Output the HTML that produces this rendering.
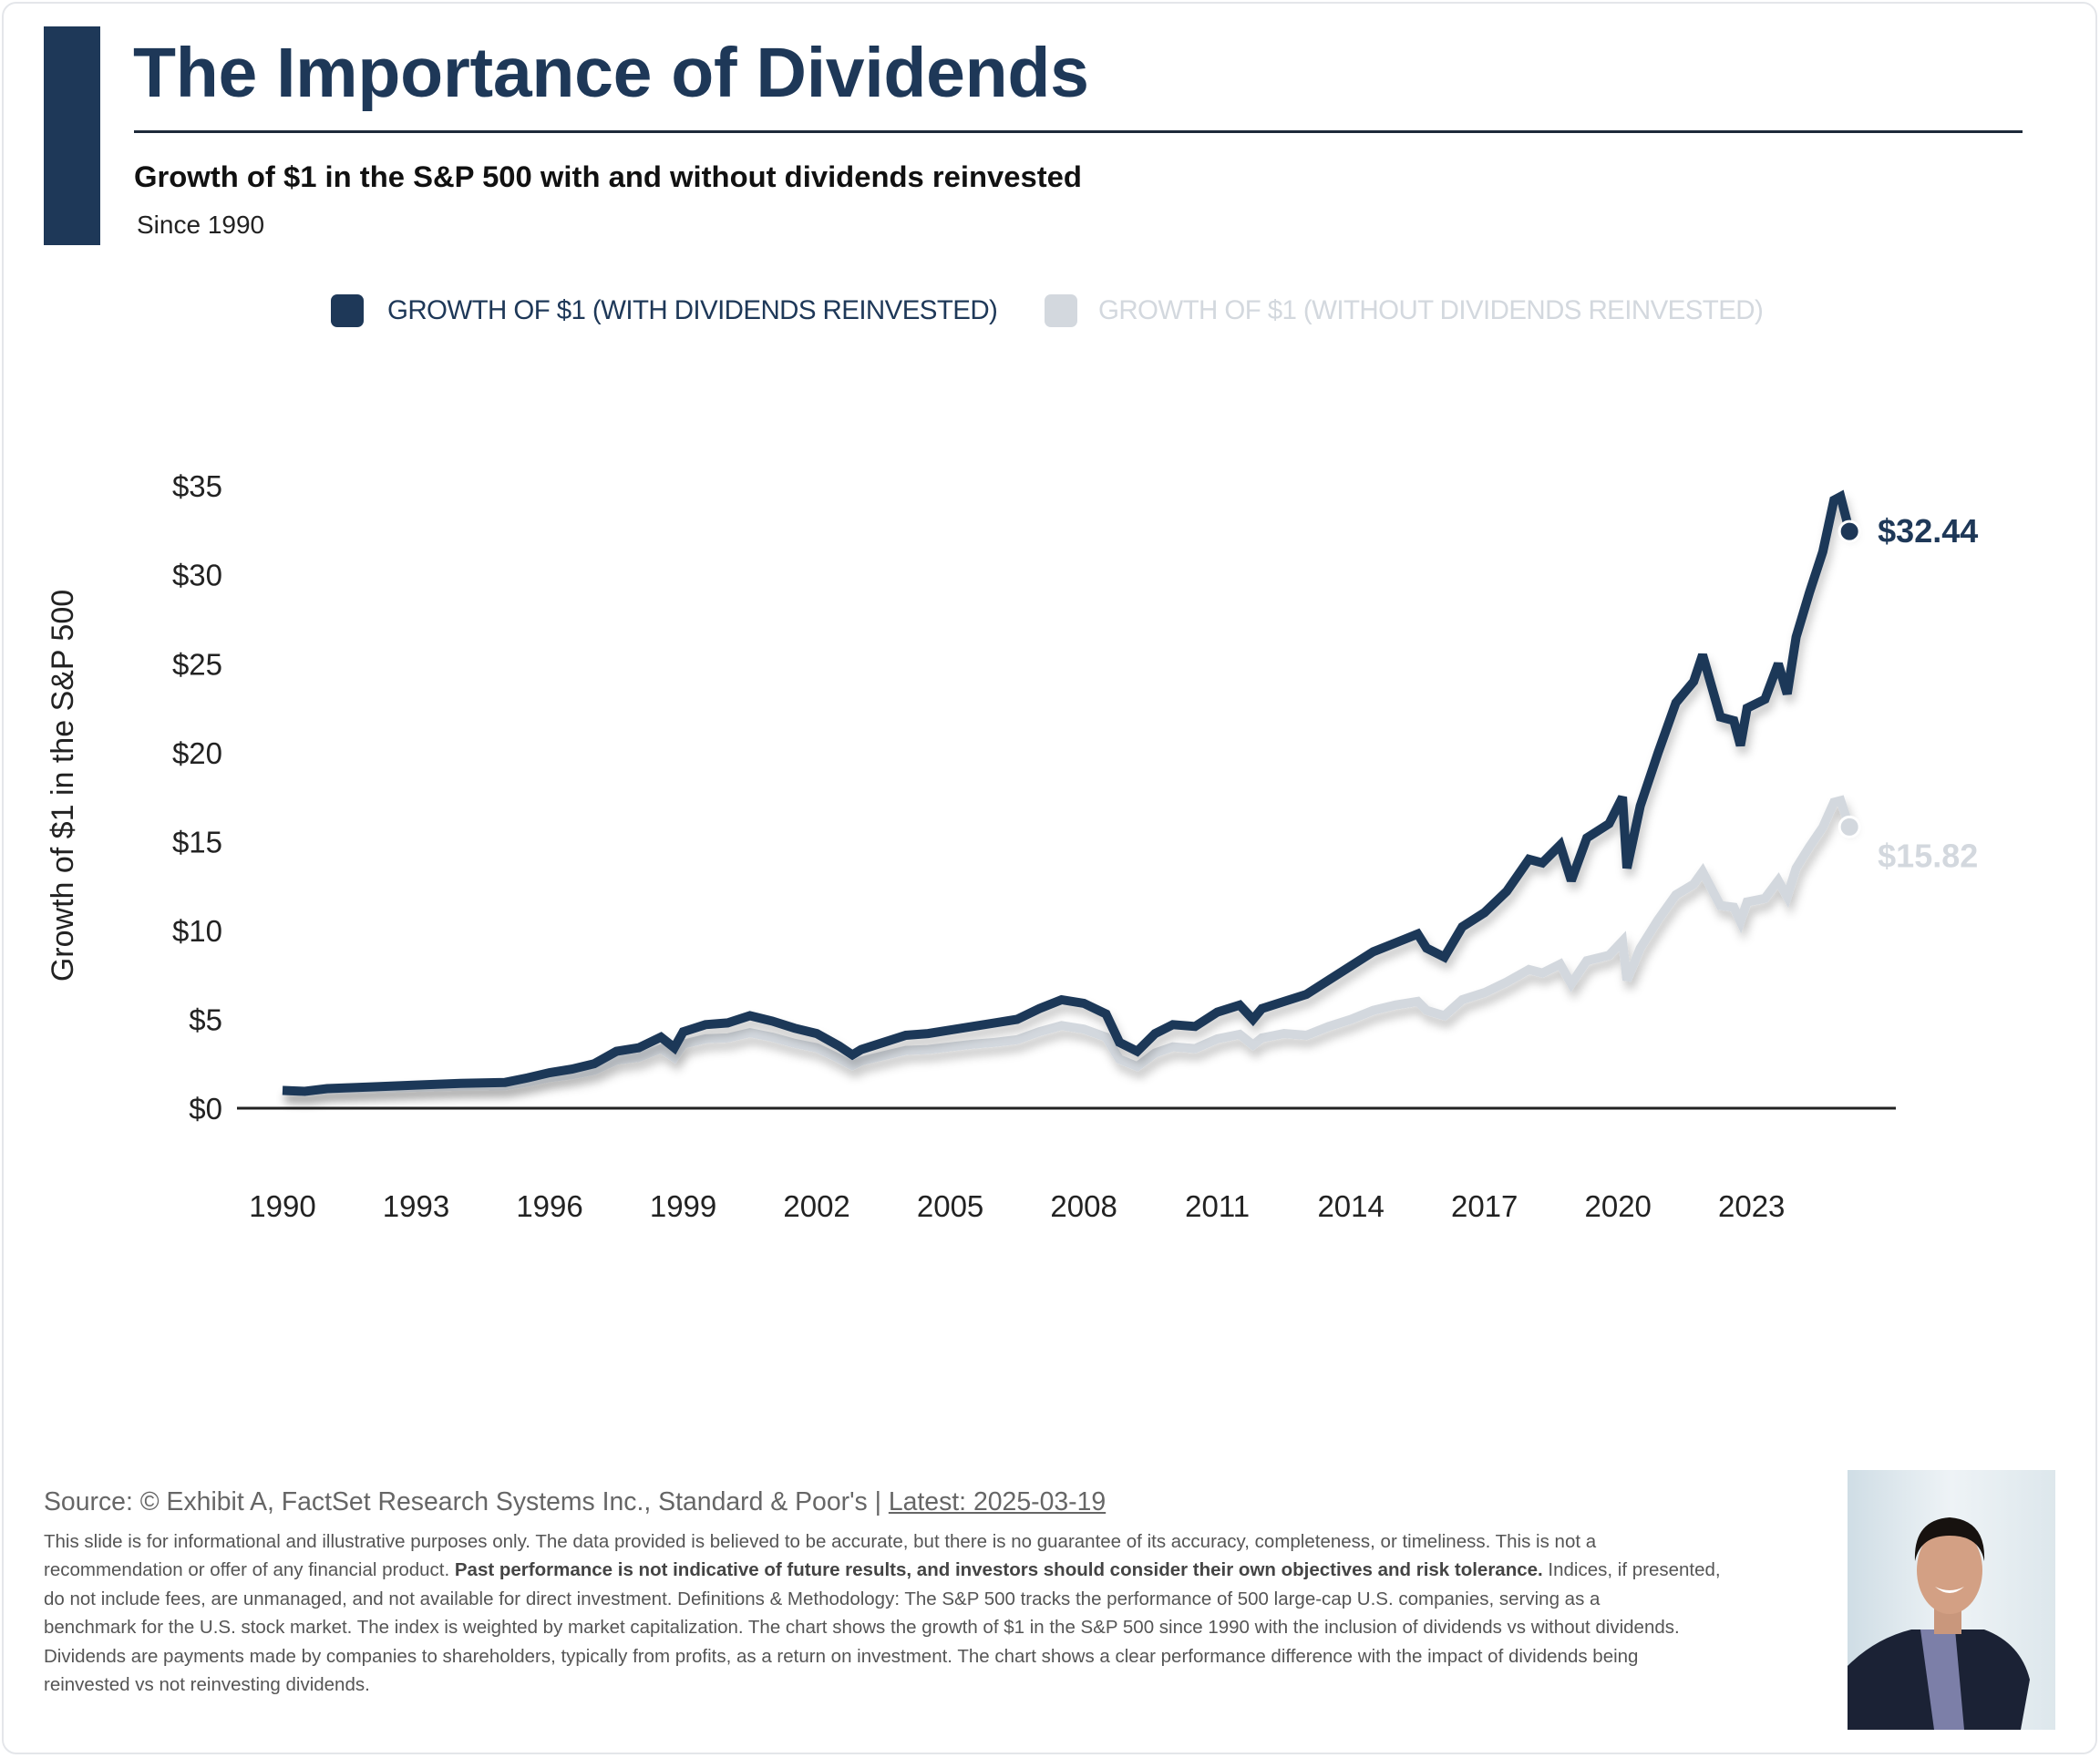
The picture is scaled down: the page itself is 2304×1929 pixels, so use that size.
<!DOCTYPE html>
<html><head><meta charset="utf-8">
<style>
*{margin:0;padding:0;box-sizing:border-box}
body{width:2304px;height:1929px;background:#fff;font-family:"Liberation Sans",sans-serif;position:relative;overflow:hidden}
#card{position:absolute;left:2px;top:2px;width:2299px;height:1923px;border:2px solid #e4e6ea;border-radius:16px}
.abs{position:absolute;white-space:nowrap}
.disc{position:absolute;left:48px;font-size:20.5px;color:#555;white-space:nowrap}
</style></head><body>
<div id="card"></div>
<div class="abs" style="left:48px;top:29px;width:62px;height:240px;background:#1e3858"></div>
<div class="abs" style="left:146px;top:36px;font-size:77px;font-weight:bold;color:#1e3858;letter-spacing:-0.3px">The Importance of Dividends</div>
<div class="abs" style="left:147px;top:143px;width:2072px;height:3px;background:#1e2a3a"></div>
<div class="abs" style="left:147px;top:175px;font-size:32.8px;font-weight:bold;color:#111">Growth of $1 in the S&amp;P 500 with and without dividends reinvested</div>
<div class="abs" style="left:150px;top:231px;font-size:28px;color:#222">Since 1990</div>

<div class="abs" style="left:363px;top:323px;height:36px">
  <div style="position:absolute;left:0;top:0;width:36px;height:36px;border-radius:7px;background:#1e3858"></div>
  <div style="position:absolute;left:62px;top:1px;font-size:29.5px;letter-spacing:-0.6px;color:#1e3858;white-space:nowrap">GROWTH OF $1 (WITH DIVIDENDS REINVESTED)</div>
</div>
<div class="abs" style="left:1146px;top:323px;height:36px">
  <div style="position:absolute;left:0;top:0;width:36px;height:36px;border-radius:7px;background:#d3d8de"></div>
  <div style="position:absolute;left:59px;top:1px;font-size:29.5px;letter-spacing:-0.6px;color:#d3d8de;white-space:nowrap">GROWTH OF $1 (WITHOUT DIVIDENDS REINVESTED)</div>
</div>

<svg id="chart" width="2304" height="1929" style="position:absolute;left:0;top:0">
<defs><filter id="sh" x="-5%" y="-5%" width="110%" height="120%"><feDropShadow dx="3" dy="8" stdDeviation="5" flood-color="#000" flood-opacity="0.22"/></filter></defs>
<text transform="translate(80,862) rotate(-90)" text-anchor="middle" font-size="34" fill="#222" font-family="Liberation Sans, sans-serif">Growth of $1 in the S&amp;P 500</text>
<g id="yticks"></g><g id="xticks"></g>
<line x1="260" x2="2080" y1="1216" y2="1216" stroke="#222" stroke-width="3"/>
<g id="series"></g>
</svg>

<div class="abs" style="left:48px;top:1632px;font-size:28.4px;color:#666">Source: © Exhibit A, FactSet Research Systems Inc., Standard &amp; Poor's | <span style="text-decoration:underline">Latest: 2025-03-19</span></div>
<div class="disc" style="top:1680px">This slide is for informational and illustrative purposes only. The data provided is believed to be accurate, but there is no guarantee of its accuracy, completeness, or timeliness. This is not a</div>
<div class="disc" style="top:1711px">recommendation or offer of any financial product. <b style="color:#444">Past performance is not indicative of future results, and investors should consider their own objectives and risk tolerance.</b> Indices, if presented,</div>
<div class="disc" style="top:1743px">do not include fees, are unmanaged, and not available for direct investment. Definitions &amp; Methodology: The S&amp;P 500 tracks the performance of 500 large-cap U.S. companies, serving as a</div>
<div class="disc" style="top:1774px">benchmark for the U.S. stock market. The index is weighted by market capitalization. The chart shows the growth of $1 in the S&amp;P 500 since 1990 with the inclusion of dividends vs without dividends.</div>
<div class="disc" style="top:1806px">Dividends are payments made by companies to shareholders, typically from profits, as a return on investment. The chart shows a clear performance difference with the impact of dividends being</div>
<div class="disc" style="top:1837px">reinvested vs not reinvesting dividends.</div>

<svg width="228" height="285" style="position:absolute;left:2027px;top:1613px">
<defs><linearGradient id="bg" x1="0" x2="1"><stop offset="0" stop-color="#cfdde5"/><stop offset="0.5" stop-color="#eef3f6"/><stop offset="1" stop-color="#dde7ec"/></linearGradient></defs>
<rect width="228" height="285" fill="url(#bg)"/>
<path d="M0 285 L0 215 Q30 185 70 175 L150 175 Q190 190 200 230 L190 285Z" fill="#1b2235"/>
<path d="M80 175 L118 175 L128 285 L95 285Z" fill="#7c7fa8"/>
<rect x="95" y="140" width="30" height="40" fill="#c9977c"/>
<ellipse cx="112" cy="110" rx="36" ry="48" fill="#d3a084"/>
<path d="M74 100 Q72 55 112 52 Q152 55 150 100 Q145 72 112 72 Q80 72 74 100Z" fill="#17120f"/>
<path d="M96 128 Q112 142 128 128 Q112 136 96 128Z" fill="#fff"/>
</svg>

<script>
const years = [1990,1990.5,1991,1992,1993,1994,1995,1995.5,1996,1996.5,1997,1997.5,1998,1998.5,1998.8,1999,1999.5,2000,2000.5,2001,2001.5,2002,2002.5,2002.8,2003,2003.5,2004,2004.5,2005,2005.5,2006,2006.5,2007,2007.5,2008,2008.5,2008.8,2009.2,2009.6,2010,2010.5,2011,2011.5,2011.8,2012,2012.5,2013,2013.5,2014,2014.5,2015,2015.5,2015.7,2016.1,2016.5,2017,2017.5,2018,2018.3,2018.7,2018.95,2019.3,2019.8,2020.1,2020.2,2020.5,2020.9,2021.3,2021.7,2021.9,2022.3,2022.6,2022.75,2022.9,2023.3,2023.6,2023.8,2024,2024.3,2024.6,2024.85,2025,2025.2];
const withDiv = [1.0,0.95,1.1,1.2,1.3,1.4,1.45,1.7,2.0,2.2,2.5,3.2,3.4,4.0,3.4,4.3,4.7,4.8,5.2,4.9,4.5,4.2,3.5,3.0,3.3,3.7,4.1,4.2,4.4,4.6,4.8,5.0,5.6,6.1,5.9,5.3,3.7,3.2,4.2,4.7,4.6,5.4,5.8,5.0,5.6,6.0,6.4,7.2,8.0,8.8,9.3,9.8,9.0,8.5,10.2,11.0,12.2,14.0,13.8,14.8,12.8,15.2,16.0,17.5,13.5,17.0,20.0,22.8,24.0,25.5,22.0,21.8,20.4,22.5,23.0,25.0,23.3,26.5,29.0,31.3,34.2,34.4,32.44];
const withoutDiv = [1.0,0.94,1.06,1.12,1.18,1.24,1.26,1.46,1.72,1.88,2.12,2.7,2.86,3.35,2.85,3.6,3.9,3.95,4.25,4.0,3.65,3.4,2.8,2.4,2.65,2.95,3.25,3.3,3.45,3.6,3.7,3.85,4.3,4.65,4.45,4.0,2.75,2.35,3.1,3.45,3.35,3.9,4.15,3.55,3.95,4.2,4.1,4.6,5.0,5.5,5.8,6.0,5.5,5.2,6.1,6.5,7.1,7.8,7.6,8.1,7.0,8.3,8.6,9.4,7.2,9.0,10.6,12.0,12.6,13.3,11.4,11.3,10.5,11.6,11.8,12.8,11.9,13.5,14.7,15.8,17.2,17.3,15.82];
const yTicks = [0,5,10,15,20,25,30,35];
const xTicks = [1990,1993,1996,1999,2002,2005,2008,2011,2014,2017,2020,2023];

const NS='http://www.w3.org/2000/svg';
const xS = y => 310 + (y-1990)*48.84;
const yS = v => 1216 - v*19.51;
function mk(tag, attrs, parent){const e=document.createElementNS(NS,tag);for(const k in attrs)e.setAttribute(k,attrs[k]);parent.appendChild(e);return e;}
const yg=document.getElementById('yticks'), xg=document.getElementById('xticks'), sg=document.getElementById('series');
yTicks.forEach(v=>{
  const t=mk('text',{x:244,y:yS(v)+12,'text-anchor':'end','font-size':33,fill:'#222','font-family':'Liberation Sans, sans-serif'},yg);
  
  
  t.textContent='$'+v;
});
xTicks.forEach(v=>{
  const t=mk('text',{x:xS(v),y:1335,'text-anchor':'middle','font-size':33,fill:'#222','font-family':'Liberation Sans, sans-serif'},xg);
  
  
  t.textContent=v;
});
function drawSeries(vals,color,name,label,lblColor,lblDy){
  const d=vals.map((v,i)=>(i?'L':'M')+xS(years[i]).toFixed(1)+' '+yS(v).toFixed(1)).join(' ');
  const p=mk('path',{d:d,fill:'none',stroke:color,'stroke-width':10,'stroke-linejoin':'miter','stroke-miterlimit':3,filter:'url(#sh)'},sg);
  
  
  const lv=vals[vals.length-1], lx=xS(years[years.length-1]);
  const c=mk('circle',{cx:lx,cy:yS(lv),r:11,fill:color,stroke:'#fff','stroke-width':3},sg);
  
  
  const t=mk('text',{x:lx+31,y:yS(lv)+12+lblDy,'font-size':36,'font-weight':'bold',fill:lblColor,'font-family':'Liberation Sans, sans-serif'},sg);
  
  
  t.textContent=label;
}
drawSeries(withoutDiv,'#d3d8de','without-dividends','$'+withoutDiv[withoutDiv.length-1].toFixed(2),'#d3d8de',32);
drawSeries(withDiv,'#1e3858','with-dividends','$'+withDiv[withDiv.length-1].toFixed(2),'#1e3858',0);
</script>
</body></html>
